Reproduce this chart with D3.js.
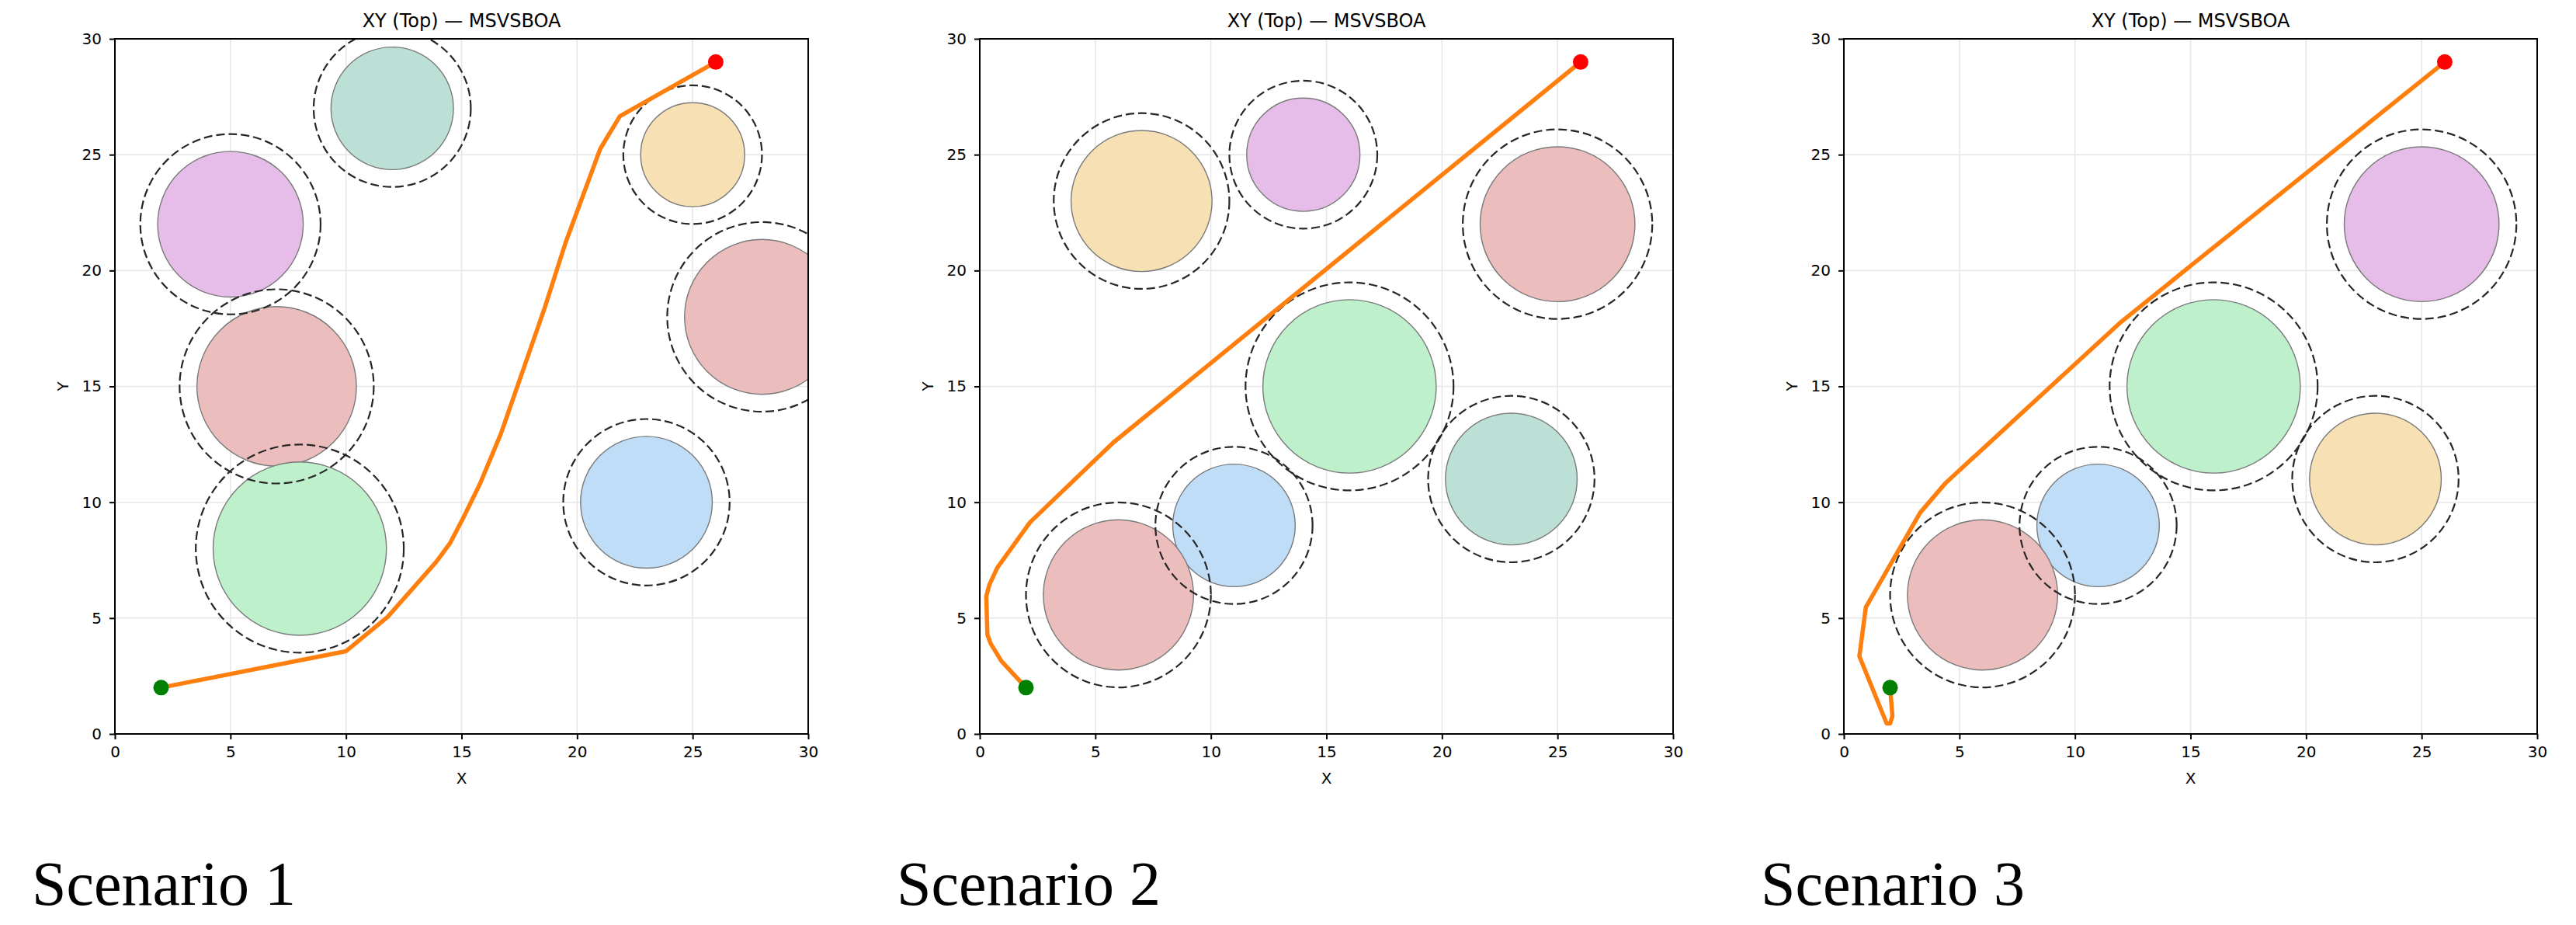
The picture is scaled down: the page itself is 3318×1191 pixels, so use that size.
<!DOCTYPE html>
<html>
<head>
<meta charset="utf-8">
<script src="https://cdn.jsdelivr.net/npm/d3@7"></script>
<style>
  html, body { margin: 0; padding: 0; background: #ffffff; }
  svg { display: block; }
</style>
</head>
<body>
<script>
// ---------------- data ----------------
const ticks = [0, 5, 10, 15, 20, 25, 30];
const titleText = "XY (Top) — MSVSBOA";
const scenarioNames = ["Scenario 1", "Scenario 2", "Scenario 3"];

// Scenario 1 obstacles
const s1ObsX = [12, 5, 7, 8, 25, 28, 23];
const s1ObsY = [27, 22, 15, 8, 25, 18, 10];
const s1ObsR = [2.65, 3.15, 3.45, 3.75, 2.25, 3.35, 2.85];
const s1SafeR = [3.4, 3.9, 4.2, 4.5, 3.0, 4.1, 3.6];
const s1Colors = ["#bde0d6", "#e6bde8", "#ebbdbd", "#bff0cc", "#f7e0b3", "#ebbdbd", "#bfddf7"];
const s1PathX = [2, 10.0, 11.8, 13.9, 14.5, 15.1, 15.8, 16.7, 17.8, 18.6, 19.5, 21.0, 21.85, 26];
const s1PathY = [2, 3.57, 5.05, 7.42, 8.23, 9.38, 10.8, 12.95, 16.1, 18.4, 21.2, 25.25, 26.66, 29];

// Scenario 2 obstacles
const s2ObsX = [7, 14, 25, 16, 23, 11, 6];
const s2ObsY = [23, 25, 22, 15, 11, 9, 6];
const s2ObsR = [3.05, 2.45, 3.35, 3.75, 2.85, 2.65, 3.25];
const s2SafeR = [3.8, 3.2, 4.1, 4.5, 3.6, 3.4, 4.0];
const s2Colors = ["#f7e0b3", "#e6bde8", "#ebbdbd", "#bff0cc", "#bde0d6", "#bfddf7", "#ebbdbd"];
const s2PathX = [2, 0.94, 0.47, 0.33, 0.28, 0.42, 0.75, 2.17, 5.77, 26];
const s2PathY = [2, 3.14, 3.9, 4.28, 5.94, 6.45, 7.16, 9.13, 12.57, 29];

// Scenario 3 obstacles
const s3ObsX = [25, 16, 23, 11, 6];
const s3ObsY = [22, 15, 11, 9, 6];
const s3ObsR = [3.35, 3.75, 2.85, 2.65, 3.25];
const s3SafeR = [4.1, 4.5, 3.6, 3.4, 4.0];
const s3Colors = ["#e6bde8", "#bff0cc", "#f7e0b3", "#bfddf7", "#ebbdbd"];
const s3PathX = [2, 2.1, 2.0, 1.85, 0.67, 0.95, 3.3, 4.4, 11.9, 15.0, 26];
const s3PathY = [2, 0.78, 0.45, 0.45, 3.35, 5.47, 9.55, 10.83, 17.7, 20.2, 29];

const scenarios = [
  {ox: s1ObsX, oy: s1ObsY, or: s1ObsR, sr: s1SafeR, col: s1Colors, px: s1PathX, py: s1PathY},
  {ox: s2ObsX, oy: s2ObsY, or: s2ObsR, sr: s2SafeR, col: s2Colors, px: s2PathX, py: s2PathY},
  {ox: s3ObsX, oy: s3ObsY, or: s3ObsR, sr: s3SafeR, col: s3Colors, px: s3PathX, py: s3PathY}
];

// ---------------- layout ----------------
const W = 3318, H = 1191;
const panelLeft = [148, 1262, 2375];
const panelTop = 50;
const PW = 893, PH = 895;
const sansFont = "'DejaVu Sans', sans-serif";

const svg = d3.select("body").append("svg")
  .attr("width", W).attr("height", H)
  .attr("viewBox", `0 0 ${W} ${H}`);
svg.append("rect").attr("width", W).attr("height", H).attr("fill", "#ffffff");

scenarios.forEach((s, i) => {
  const g = svg.append("g").attr("transform", `translate(${panelLeft[i]},${panelTop})`);
  const x = d3.scaleLinear().domain([0, 30]).range([0, PW]);
  const y = d3.scaleLinear().domain([0, 30]).range([PH, 0]);

  // grid
  const grid = g.append("g");
  grid.selectAll("line.vx").data(ticks).join("line")
    .attr("x1", d => x(d)).attr("x2", d => x(d))
    .attr("y1", 0).attr("y2", PH)
    .attr("stroke", "#e6e6e6").attr("stroke-width", 1.5);
  grid.selectAll("line.hy").data(ticks).join("line")
    .attr("y1", d => y(d)).attr("y2", d => y(d))
    .attr("x1", 0).attr("x2", PW)
    .attr("stroke", "#e6e6e6").attr("stroke-width", 1.5);

  // clip
  const clipId = "clip" + i;
  svg.append("defs").append("clipPath").attr("id", clipId)
    .append("rect").attr("x", 0).attr("y", 0).attr("width", PW).attr("height", PH);

  const plot = g.append("g").attr("clip-path", `url(#${clipId})`);
  const obs = s.ox.map((v, k) => ({x: v, y: s.oy[k], r: s.or[k], sr: s.sr[k], c: s.col[k]}));

  plot.selectAll("circle.obs").data(obs).join("circle")
    .attr("cx", d => x(d.x)).attr("cy", d => y(d.y))
    .attr("r", d => x(d.r) - x(0))
    .attr("fill", d => d.c)
    .attr("stroke", "#7a7a7a").attr("stroke-width", 1.4);
  plot.selectAll("circle.safe").data(obs).join("circle")
    .attr("cx", d => x(d.x)).attr("cy", d => y(d.y))
    .attr("r", d => x(d.sr) - x(0))
    .attr("fill", "none")
    .attr("stroke", "#262626").attr("stroke-width", 2.2)
    .attr("stroke-dasharray", "11,5");

  const pts = s.px.map((v, k) => [v, s.py[k]]);
  const line = d3.line().x(d => x(d[0])).y(d => y(d[1]));
  plot.append("path").datum(pts)
    .attr("d", line)
    .attr("fill", "none")
    .attr("stroke", "#ff7f0e").attr("stroke-width", 5.5)
    .attr("stroke-linejoin", "round").attr("stroke-linecap", "round");

  const first = pts[0], last = pts[pts.length - 1];
  plot.append("circle").attr("cx", x(first[0])).attr("cy", y(first[1])).attr("r", 10).attr("fill", "#008000");
  plot.append("circle").attr("cx", x(last[0])).attr("cy", y(last[1])).attr("r", 10).attr("fill", "#ff0000");

  // axes
  const xAxis = d3.axisBottom(x).tickValues(ticks).tickSize(7).tickSizeOuter(0).tickPadding(9);
  const yAxis = d3.axisLeft(y).tickValues(ticks).tickSize(7).tickSizeOuter(0).tickPadding(10);
  const gx = g.append("g").attr("transform", `translate(0,${PH})`).call(xAxis);
  const gy = g.append("g").call(yAxis);
  [gx, gy].forEach(a => {
    a.select(".domain").remove();
    a.selectAll(".tick line").attr("stroke", "#000").attr("stroke-width", 2);
    a.selectAll(".tick text").attr("fill", "#000")
      .style("font-family", sansFont).style("font-size", "20px");
  });

  // frame
  g.append("rect").attr("x", 0).attr("y", 0).attr("width", PW).attr("height", PH)
    .attr("fill", "none").attr("stroke", "#000").attr("stroke-width", 2);

  // title
  g.append("text").attr("x", PW / 2).attr("y", -15)
    .attr("text-anchor", "middle")
    .style("font-family", sansFont).style("font-size", "24px").attr("fill", "#000")
    .text(titleText);

  // axis labels
  g.append("text").attr("x", PW / 2).attr("y", PH + 64)
    .attr("text-anchor", "middle")
    .style("font-family", sansFont).style("font-size", "20px").attr("fill", "#000")
    .text("X");
  g.append("text")
    .attr("transform", `translate(-60,${PH / 2}) rotate(-90)`)
    .attr("text-anchor", "middle")
    .style("font-family", sansFont).style("font-size", "20px").attr("fill", "#000")
    .text("Y");

  // scenario caption
  svg.append("text").attr("x", panelLeft[i] - 107).attr("y", 1165)
    .style("font-family", "'Liberation Serif', 'Times New Roman', serif")
    .style("font-size", "80px").attr("fill", "#000")
    .text(scenarioNames[i]);
});
</script>
</body>
</html>
